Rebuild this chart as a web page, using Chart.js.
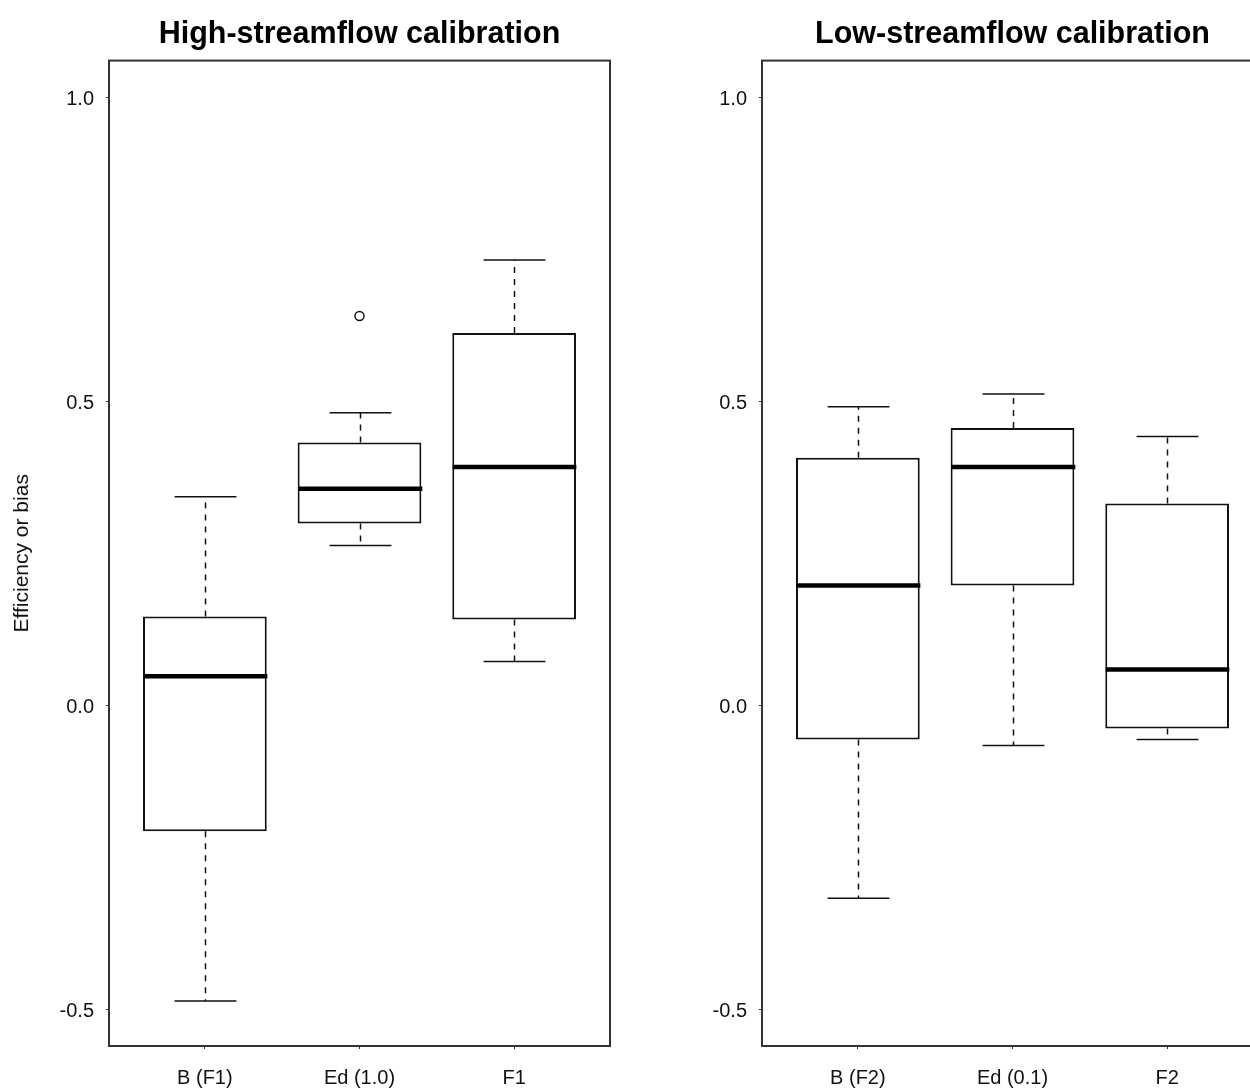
<!DOCTYPE html>
<html><head><meta charset="utf-8">
<script src="https://cdn.jsdelivr.net/npm/chart.js@4/dist/chart.umd.min.js"></script>
<style>
html,body{margin:0;padding:0;background:#fff;overflow:hidden;width:1250px;height:1091px;}
.panel{position:absolute;top:0;}
</style></head><body>
<div class="panel" style="left:0px"><canvas id="c1" width="640" height="1091"></canvas></div>
<div class="panel" style="left:653px"><canvas id="c2" width="640" height="1091"></canvas></div>
<script>
// ---- data ----
const yTicks = [-0.5, 0.0, 0.5, 1.0];
const yMin = -0.56, yMax = 1.06;
const xMin = 0.38, xMax = 3.62;
const yAxisTitle = 'Efficiency or bias';

const highTitle = 'High-streamflow calibration';
const highCategories = ['B (F1)', 'Ed (1.0)', 'F1'];
const highMin    = [-0.486, 0.263, 0.072];
const highQ1     = [-0.207, 0.299, 0.141];
const highMedian = [ 0.048, 0.356, 0.392];
const highQ3     = [ 0.146, 0.432, 0.612];
const highMax    = [ 0.343, 0.481, 0.732];
const highOutliers = [[], [0.640], []];

const lowTitle = 'Low-streamflow calibration';
const lowCategories = ['B (F2)', 'Ed (0.1)', 'F2'];
const lowMin    = [-0.317, -0.066, -0.056];
const lowQ1     = [-0.056,  0.197, -0.038];
const lowMedian = [ 0.197,  0.392,  0.059];
const lowQ3     = [ 0.407,  0.456,  0.332];
const lowMax    = [ 0.491,  0.512,  0.442];
const lowOutliers = [[], [], []];

const FONT = "'Liberation Sans', Arial, sans-serif";

const boxExtras = {
  id: 'boxExtras',
  afterDatasetsDraw(chart, args, opts) {
    const {ctx, chartArea: ca, scales: {x, y}} = chart;
    const s = opts.stats;
    ctx.save();
    ctx.beginPath();
    ctx.rect(ca.left, ca.top, ca.right - ca.left, ca.bottom - ca.top);
    ctx.clip();
    const half = x.getPixelForValue(1.4) - x.getPixelForValue(1);
    const cap = half / 2;
    for (let i = 0; i < s.median.length; i++) {
      const px = Math.round(x.getPixelForValue(i + 1)) + 0.5;
      ctx.strokeStyle = '#111';
      ctx.lineWidth = 1.5;
      ctx.setLineDash([6, 6]);
      ctx.beginPath();
      ctx.moveTo(px, y.getPixelForValue(s.q3[i]));
      ctx.lineTo(px, y.getPixelForValue(s.max[i]));
      ctx.moveTo(px, y.getPixelForValue(s.q1[i]));
      ctx.lineTo(px, y.getPixelForValue(s.min[i]));
      ctx.stroke();
      ctx.setLineDash([]);
      ctx.beginPath();
      ctx.moveTo(px - cap, y.getPixelForValue(s.max[i]));
      ctx.lineTo(px + cap, y.getPixelForValue(s.max[i]));
      ctx.moveTo(px - cap, y.getPixelForValue(s.min[i]));
      ctx.lineTo(px + cap, y.getPixelForValue(s.min[i]));
      ctx.stroke();
      ctx.lineWidth = 4.5;
      ctx.strokeStyle = '#000';
      ctx.beginPath();
      ctx.moveTo(px - half, y.getPixelForValue(s.median[i]));
      ctx.lineTo(px + half, y.getPixelForValue(s.median[i]));
      ctx.stroke();
    }
    ctx.restore();
    ctx.save();
    ctx.strokeStyle = '#333';
    ctx.lineWidth = 2;
    ctx.strokeRect(ca.left, ca.top, ca.right - ca.left, ca.bottom - ca.top);
    ctx.restore();
  }
};

function makeChart(id, title, cats, mn, q1, med, q3, mx, outl, showYTitle) {
  const boxData = cats.map((c, i) => ({x: i + 1, y: [q1[i], q3[i]]}));
  const outData = [];
  outl.forEach((arr, i) => arr.forEach(v => outData.push({x: i + 1, y: v})));
  return new Chart(document.getElementById(id), {
    type: 'bar',
    data: {
      datasets: [
        {type: 'bar', data: boxData, backgroundColor: '#fff', borderColor: '#111',
         borderWidth: 2, borderSkipped: false, categoryPercentage: 1, barPercentage: 0.8},
        {type: 'scatter', data: outData, pointStyle: 'circle', pointRadius: 4.5,
         pointBorderWidth: 1.5, pointBorderColor: '#111', pointBackgroundColor: '#fff'}
      ]
    },
    plugins: [boxExtras],
    options: {
      responsive: false, animation: false,
      layout: {padding: {left: 0, right: 30, top: 0, bottom: 0}},
      plugins: {
        legend: {display: false}, tooltip: {enabled: false},
        title: {display: true, text: title, fullSize: false, color: '#000',
                font: {family: FONT, size: 30.5, weight: 'bold'}, padding: {top: 16, bottom: 8}},
        boxExtras: {stats: {min: mn, q1: q1, median: med, q3: q3, max: mx}}
      },
      scales: {
        x: {
          type: 'linear', min: xMin, max: xMax, offset: false,
          grid: {display: true, offset: false, drawOnChartArea: false, drawTicks: true, tickLength: 3, color: '#333'},
          border: {display: false},
          afterBuildTicks: s => { s.ticks = cats.map((c, i) => ({value: i + 1})); },
          afterFit: s => { s.height = 45; },
          ticks: {autoSkip: false, maxRotation: 0, padding: 17, color: '#111',
                  font: {family: FONT, size: 20},
                  callback: v => cats[v - 1]}
        },
        y: {
          type: 'linear', min: yMin, max: yMax,
          grid: {display: true, drawOnChartArea: false, drawTicks: true, tickLength: 3, color: '#333'},
          border: {display: false},
          afterBuildTicks: s => { s.ticks = yTicks.map(v => ({value: v})); },
          afterFit: s => { s.width = 109; },
          ticks: {padding: 12, labelOffset: 2, color: '#111', font: {family: FONT, size: 20},
                  callback: v => v.toFixed(1)},
          title: {display: showYTitle, text: yAxisTitle, color: '#111',
                  font: {family: FONT, size: 21}, padding: {top: 10, bottom: 0}}
        }
      }
    }
  });
}

makeChart('c1', highTitle, highCategories, highMin, highQ1, highMedian, highQ3, highMax, highOutliers, true);
makeChart('c2', lowTitle, lowCategories, lowMin, lowQ1, lowMedian, lowQ3, lowMax, lowOutliers, false);
</script>
</body></html>
